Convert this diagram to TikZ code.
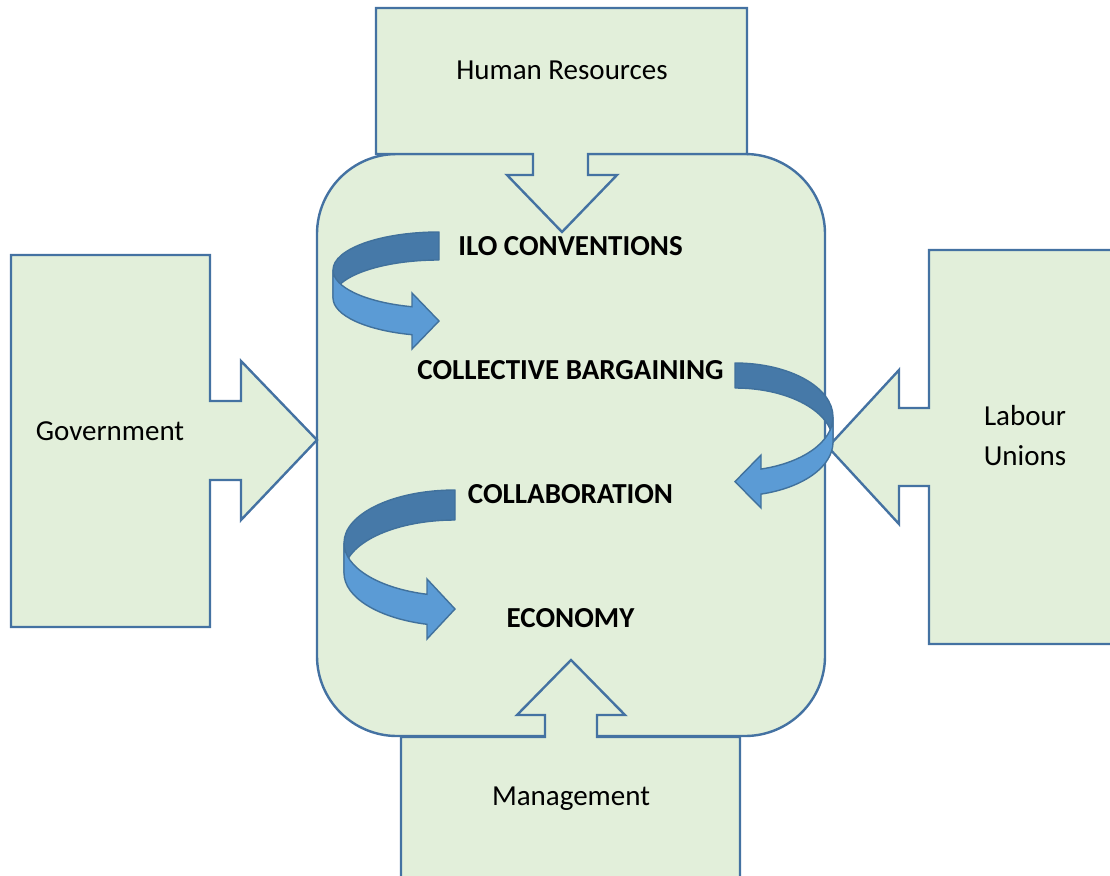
\documentclass[tikz,border=0pt]{standalone}
\usepackage{fontspec}
\setmainfont{Carlito}
\definecolor{boxfill}{RGB}{226,239,218}
\definecolor{boxline}{RGB}{68,114,162}
\definecolor{backblue}{RGB}{70,121,168}
\definecolor{frontblue}{RGB}{91,155,213}
\definecolor{arrline}{RGB}{65,113,156}
\begin{document}
\begin{tikzpicture}[x=1pt,y=1pt,
  box/.style={fill=boxfill,draw=boxline,line width=2.4pt,line join=miter},
  backface/.style={fill=backblue,draw=arrline,line width=1.4pt,line join=round},
  frontface/.style={fill=frontblue,draw=arrline,line width=1.4pt,line join=miter},
  plainlabel/.style={anchor=base,inner sep=0pt,font=\fontsize{29}{34}\selectfont},
  boldlabel/.style={anchor=base,inner sep=0pt,font=\fontsize{29}{34}\selectfont\bfseries}]
\useasboundingbox (0,0) rectangle (1110,-875);
% central rounded box
\draw[box, rounded corners=80pt] (317,-154) rectangle (825,-736);
% Human Resources callout (top)
\draw[box] (376,-8) -- (747,-8) -- (747,-154) -- (588,-154) -- (588,-175) -- (617,-175)
  -- (562,-232) -- (507,-175) -- (533,-175) -- (533,-154) -- (376,-154) -- cycle;
% Management callout (bottom)
\draw[box] (401,-737) -- (545,-737) -- (545,-715) -- (517,-715) -- (571,-660) -- (625,-715)
  -- (597,-715) -- (597,-737) -- (740,-737) -- (740,-885) -- (401,-885) -- cycle;
% Government callout (left)
\draw[box] (11,-255) -- (210,-255) -- (210,-401) -- (241,-401) -- (241,-361) -- (317,-440)
  -- (241,-520) -- (241,-480) -- (210,-480) -- (210,-627) -- (11,-627) -- cycle;
% Labour Unions callout (right)
\draw[box] (1120,-250) -- (929,-250) -- (929,-408) -- (899,-408) -- (899,-370) -- (828,-447)
  -- (899,-524) -- (899,-486) -- (929,-486) -- (929,-644) -- (1120,-644) -- cycle;
% curved arrow 1 (ILO -> Collective bargaining)
\draw[backface] (439,-232) arc[start angle=90,end angle=180,x radius=106,y radius=38]
  -- (333,-298) arc[start angle=180,end angle=90,x radius=106,y radius=38] -- cycle;
\draw[frontface] (333,-270) arc[start angle=180,end angle=255.24,x radius=106,y radius=38]
  -- (412,-293) -- (439,-321) -- (412,-349) -- (412,-334.7)
  arc[start angle=255.24,end angle=180,x radius=106,y radius=38] -- cycle;
% curved arrow 2 (Collective bargaining -> Collaboration)
\draw[backface] (735,-363) arc[start angle=90,end angle=0,x radius=98,y radius=54]
  -- (833,-442) arc[start angle=0,end angle=90,x radius=98,y radius=54] -- cycle;
\draw[frontface] (833,-417) arc[start angle=0,end angle=-74.62,x radius=98,y radius=54]
  -- (761,-455) -- (735,-481.6) -- (761,-508) -- (761,-494.1)
  arc[start angle=-74.62,end angle=0,x radius=98,y radius=54] -- cycle;
% curved arrow 3 (Collaboration -> Economy)
\draw[backface] (455,-490) arc[start angle=90,end angle=180,x radius=111,y radius=53]
  -- (344,-573) arc[start angle=180,end angle=90,x radius=111,y radius=53] -- cycle;
\draw[frontface] (344,-543) arc[start angle=180,end angle=255.39,x radius=111,y radius=53]
  -- (427,-579) -- (455,-609) -- (427,-639) -- (427,-624.3)
  arc[start angle=255.39,end angle=180,x radius=111,y radius=53] -- cycle;
% labels
\node[plainlabel] (hr) at (562,-79) {Human Resources};
\node[plainlabel] (gov) at (110,-440) {Government};
\node[plainlabel] (lab1) at (1025,-425) {Labour};
\node[plainlabel] (lab2) at (1025,-465) {Unions};
\node[plainlabel] (mgmt) at (571,-805) {Management};
\node[boldlabel] (ilo) at (570.5,-255) {ILO CONVENTIONS};
\node[boldlabel] (cb) at (570.5,-379) {COLLECTIVE BARGAINING};
\node[boldlabel] (collab) at (570.5,-503) {COLLABORATION};
\node[boldlabel] (econ) at (570.5,-627) {ECONOMY};
\end{tikzpicture}
\end{document}
